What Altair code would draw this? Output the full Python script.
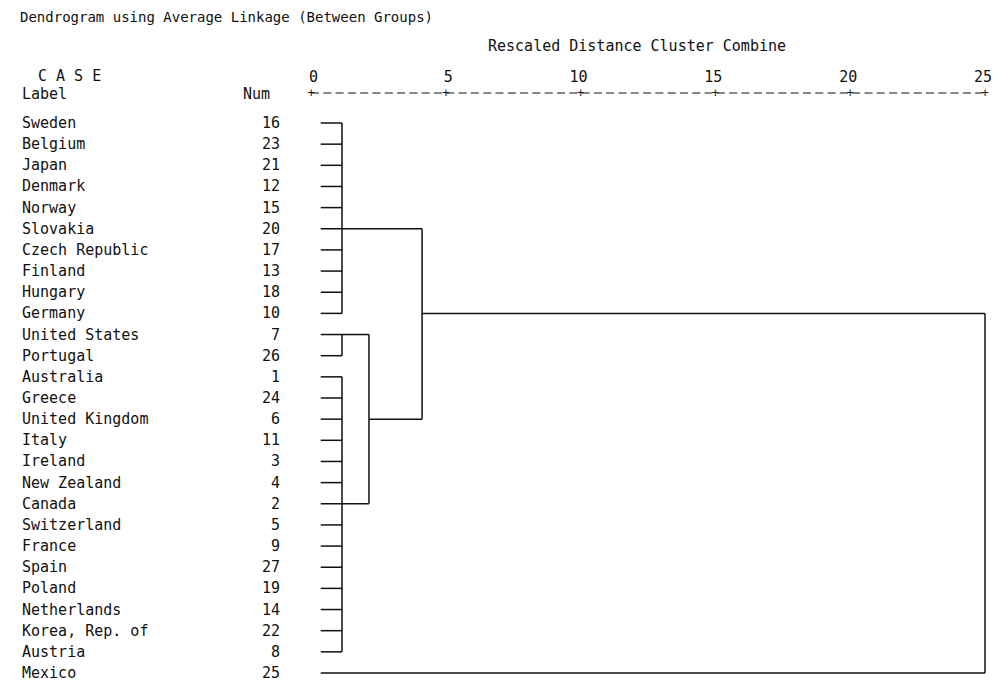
import altair as alt
import pandas as pd

# ---- data ----
labels = ["Sweden", "Belgium", "Japan", "Denmark", "Norway", "Slovakia",
          "Czech Republic", "Finland", "Hungary", "Germany", "United States",
          "Portugal", "Australia", "Greece", "United Kingdom", "Italy",
          "Ireland", "New Zealand", "Canada", "Switzerland", "France", "Spain",
          "Poland", "Netherlands", "Korea, Rep. of", "Austria", "Mexico"]
nums = [16, 23, 21, 12, 15, 20, 17, 13, 18, 10, 7, 26, 1, 24, 6, 11, 3, 4, 2,
        5, 9, 27, 19, 14, 22, 8, 25]

# merges of the dendrogram (rows are positions in the list above)
merge_first = [0, 10, 12, 10, 5, 9]        # row of the upper child
merge_last = [9, 11, 25, 18, 14, 26]       # row of the lower child
merge_height = [1.15, 1.15, 1.15, 2.15, 4.12, 25.0]  # rescaled distance
merge_out_row = [5, 10, 18, 14, 9, None]   # row where the link continues
merge_parent = [4, 3, 3, 4, 5, None]
leaf_cluster = [0] * 10 + [1] * 2 + [2] * 14 + [5]
leaf_start = 0.36

tick_values = [0, 5, 10, 15, 20, 25]

title_text = "Dendrogram using Average Linkage (Between Groups)"
subtitle_text = "Rescaled Distance Cluster Combine"

# ---- build segment table ----
segs = []
for i, c in enumerate(leaf_cluster):
    segs.append({"x": leaf_start, "x2": merge_height[c], "y": i, "y2": i})
for k in range(len(merge_height)):
    h = merge_height[k]
    segs.append({"x": h, "x2": h, "y": merge_first[k], "y2": merge_last[k]})
    if merge_parent[k] is not None:
        r = merge_out_row[k]
        segs.append({"x": h, "x2": merge_height[merge_parent[k]], "y": r, "y2": r})
seg_df = pd.DataFrame(segs)

rows_df = pd.DataFrame({"row": list(range(len(labels))), "label": labels,
                        "num": [str(n) for n in nums]})
ticks_df = pd.DataFrame({"t": tick_values, "lab": [str(t) for t in tick_values],
                         "plus": ["+"] * len(tick_values)})

FONT = "DejaVu Sans Mono"
INK = "#111111"

xs = alt.Scale(domain=[0, 25], nice=False, zero=False)
ys = alt.Scale(domain=[0, 26], nice=False, zero=False, reverse=True)

lines = alt.Chart(seg_df).mark_rule(color=INK, strokeWidth=1.5).encode(
    x=alt.X("x:Q", scale=xs, axis=None),
    x2="x2:Q",
    y=alt.Y("y:Q", scale=ys, axis=None),
    y2="y2:Q",
)

row_labels = alt.Chart(rows_df).mark_text(
    align="left", baseline="middle", font=FONT, fontSize=15, color=INK
).encode(
    x=alt.value(-289),
    y=alt.Y("row:Q", scale=ys, axis=None),
    text="label:N",
)

row_nums = alt.Chart(rows_df).mark_text(
    align="right", baseline="middle", font=FONT, fontSize=15, color=INK
).encode(
    x=alt.value(-31),
    y=alt.Y("row:Q", scale=ys, axis=None),
    text="num:N",
)

tick_labels = alt.Chart(ticks_df).mark_text(
    align="right", baseline="middle", font=FONT, fontSize=15, color=INK, dx=7
).encode(
    x=alt.X("t:Q", scale=xs, axis=None),
    y=alt.value(-46),
    text="lab:N",
)

axis_line = alt.Chart(pd.DataFrame({"a": [0], "b": [25]})).mark_rule(
    color=INK, strokeWidth=1, strokeDash=[8, 4.3]
).encode(
    x=alt.X("a:Q", scale=xs, axis=None),
    x2="b:Q",
    y=alt.value(-30),
)

plus_marks = alt.Chart(ticks_df).mark_text(
    align="center", baseline="middle", font=FONT, fontSize=12, color=INK
).encode(
    x=alt.X("t:Q", scale=xs, axis=None),
    y=alt.value(-30),
    text="plus:N",
)

header_df = pd.DataFrame({
    "txt": [title_text, subtitle_text, "C A S E", "Label", "Num"],
    "px": [-291, 326, -273, -289, -68],
    "py": [-105, -77, -47, -29, -29],
    "al": ["left", "center", "left", "left", "left"],
    "fs": [14, 15, 15, 15, 15],
})


def header(i):
    r = header_df.iloc[i]
    return alt.Chart(header_df.iloc[[i]]).mark_text(
        align=r["al"], baseline="middle", font=FONT, fontSize=int(r["fs"]), color=INK
    ).encode(
        x=alt.value(int(r["px"])),
        y=alt.value(int(r["py"])),
        text="txt:N",
    )


headers = [header(i) for i in range(len(header_df))]

chart = alt.layer(lines, row_labels, row_nums, tick_labels, axis_line,
                  plus_marks, *headers).properties(
    width=674,
    height=550,
    autosize="none",
    padding={"left": 303, "top": 115, "right": 7, "bottom": 9},
    background="white",
).configure_view(stroke=None)

chart.save("out.html", embed_options={"renderer": "svg", "actions": False})
